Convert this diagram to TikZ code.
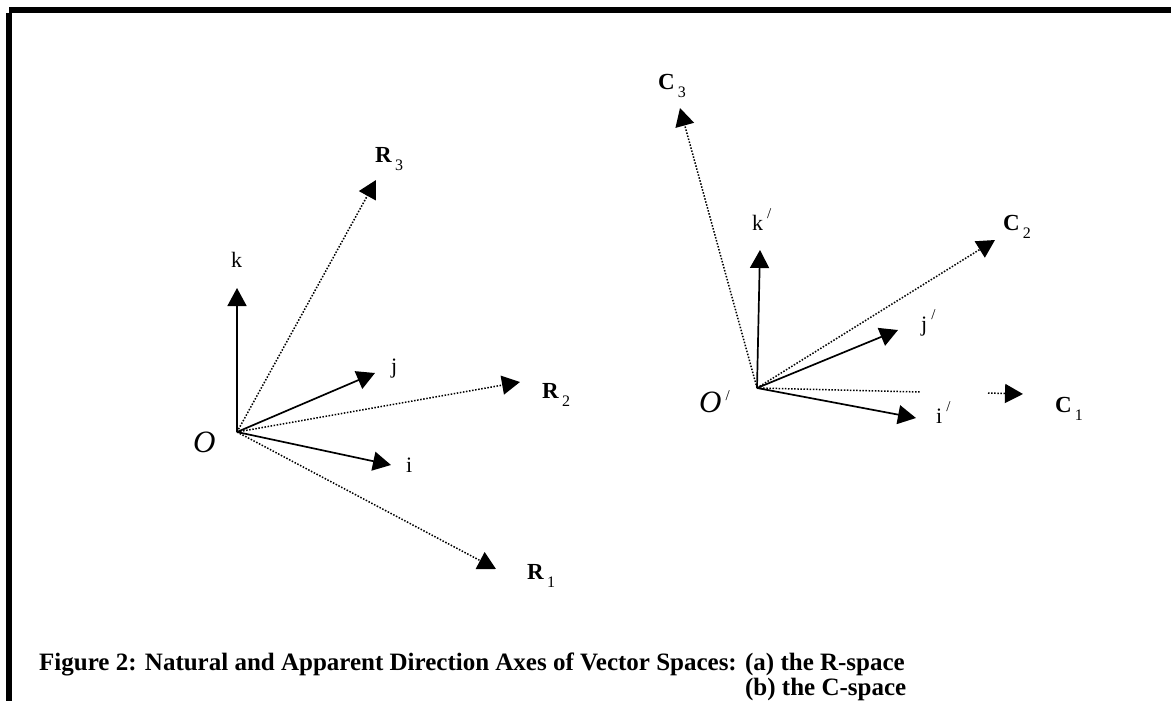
\documentclass[tikz,border=0pt]{standalone}
\usepackage{fontspec}
\setmainfont{Liberation Serif}
\usetikzlibrary{arrows.meta}
\tikzset{
  basisarrow/.style={
    -{Triangle[length=18pt,width=19pt]},
    line width=1.7pt
  },
  dotline/.style={
    line width=1.5pt,
    dash pattern=on 1.5pt off 1.6pt
  },
  dirarrow/.style={
    dotline,
    -{Triangle[length=18pt,width=19pt]}
  },
  basislbl/.style={
    inner sep=0pt,
    anchor=base west,
    font=\fontsize{22}{22}\selectfont
  },
  dirlbl/.style={
    inner sep=0pt,
    anchor=base west,
    font=\fontsize{23}{23}\selectfont
  },
  originlbl/.style={
    inner sep=0pt,
    anchor=base west,
    font=\fontsize{31}{31}\selectfont\itshape
  },
  captionlbl/.style={
    inner sep=0pt,
    anchor=base west,
    font=\fontsize{25}{28}\selectfont\bfseries
  }
}
\newcommand{\dirname}[2]{\textbf{#1}\hspace{3pt}\raisebox{-8pt}{\fontsize{16}{16}\selectfont #2}}
\newcommand{\primed}[1]{#1\hspace{4pt}\raisebox{12pt}{\fontsize{15}{15}\selectfont\upshape /}}

\begin{document}
\begin{tikzpicture}[x=1pt,y=-1pt]
\useasboundingbox (0,0) rectangle (1171,701);
% frame bars
\fill (9,7) rectangle (1171,13);
\fill (6,13) rectangle (12,701);

% (a) R-space
\coordinate (o) at (237,432);
\coordinate (k) at (237,288);
\coordinate (j) at (375,373);
\coordinate (i) at (391,465);
\coordinate (r1) at (496,569);
\coordinate (r2) at (520,382);
\coordinate (r3) at (376,180);
\draw[dirarrow] (o) -- (r3);
\draw[dirarrow] (o) -- (r2);
\draw[dirarrow] (o) -- (r1);
\draw[basisarrow] (o) -- (k);
\draw[basisarrow] (o) -- (j);
\draw[basisarrow] (o) -- (i);
\node[originlbl] (olbl) at (193,452) {O};
\node[basislbl] (klbl) at (231,267) {k};
\node[basislbl] (jlbl) at (391,373) {j};
\node[basislbl] (ilbl) at (406,472) {i};
\node[dirlbl] (r1lbl) at (527,579) {\dirname{R}{1}};
\node[dirlbl] (r2lbl) at (542,398) {\dirname{R}{2}};
\node[dirlbl] (r3lbl) at (375,162) {\dirname{R}{3}};

% (b) C-space
\coordinate (op) at (757,388);
\coordinate (kp) at (760,250);
\coordinate (jp) at (898,330);
\coordinate (ip) at (916,418);
\coordinate (c1gap) at (920,392);
\coordinate (c1back) at (988,393);
\coordinate (c1) at (1023,394);
\coordinate (c2) at (995,240);
\coordinate (c3) at (680,108);
\draw[dirarrow] (op) -- (c3);
\draw[dirarrow] (op) -- (c2);
\draw[dotline] (op) -- (c1gap);
\draw[dirarrow] (c1back) -- (c1);
\draw[basisarrow] (op) -- (kp);
\draw[basisarrow] (op) -- (jp);
\draw[basisarrow] (op) -- (ip);
\node[originlbl] (oplbl) at (699,412) {\primed{O}};
\node[basislbl] (kplbl) at (752,230) {\primed{k}};
\node[basislbl] (jplbl) at (921,331) {\primed{j}};
\node[basislbl] (iplbl) at (936,423) {\primed{i}};
\node[dirlbl] (c1lbl) at (1055,412) {\dirname{C}{1}};
\node[dirlbl] (c2lbl) at (1003,230) {\dirname{C}{2}};
\node[dirlbl] (c3lbl) at (658,90) {\dirname{C}{3}};

% caption
\node[captionlbl] (cap1) at (39,670) {Figure 2: Natural and Apparent Direction Axes of Vector Spaces: (a) the R-space};
\node[captionlbl] (cap2) at (39,695) {\hphantom{Figure 2: Natural and Apparent Direction Axes of Vector Spaces: }(b) the C-space};
\end{tikzpicture}
\end{document}
